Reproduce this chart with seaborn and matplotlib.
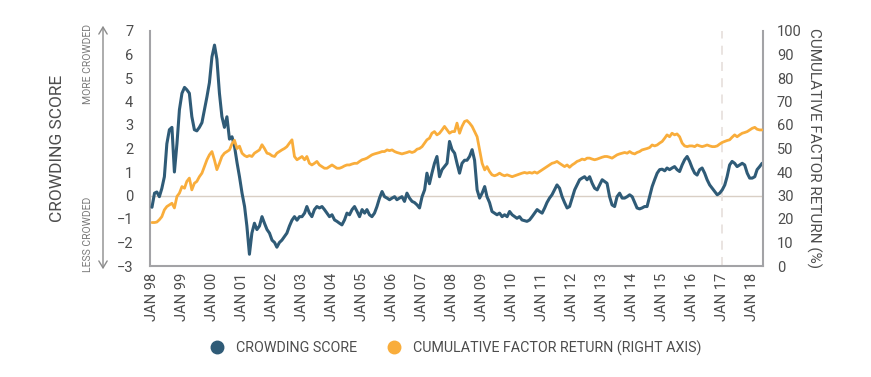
import numpy as np
import pandas as pd
import matplotlib
matplotlib.use("Agg")
import matplotlib.pyplot as plt
from matplotlib.lines import Line2D
import seaborn as sns

# monthly readings, Jan 1998 .. May 2018
crowding = [
    -0.5, 0.1, 0.15, -0.05, 0.3, 0.8, 2.2, 2.8, 2.9, 1.0, 2.2, 3.65,
    4.35, 4.6, 4.5, 4.35, 3.36, 2.8, 2.75, 2.9, 3.1, 3.65, 4.2, 4.8,
    5.9, 6.4, 5.8, 4.35, 3.36, 2.9, 3.35, 2.4, 2.5, 2.1, 1.4, 0.8,
    0.1, -0.47, -1.3, -2.5, -1.6, -1.18, -1.45, -1.3, -0.9, -1.18, -1.45, -1.6,
    -1.9, -2.0, -2.2, -2.0, -1.9, -1.75, -1.6, -1.3, -1.05, -0.9, -1.05, -0.9,
    -0.9, -0.75, -0.47, -0.75, -0.9, -0.6, -0.47, -0.53, -0.47, -0.6, -0.75, -0.9,
    -0.82, -1.04, -1.1, -1.18, -1.25, -1.04, -0.75, -0.82, -0.6, -0.47, -0.68, -0.9,
    -0.6, -0.75, -0.6, -0.82, -0.9, -0.75, -0.47, -0.11, 0.17, -0.05, -0.11, -0.18,
    -0.11, -0.05, -0.18, -0.11, -0.05, -0.25, 0.1, -0.11, -0.25, -0.3, -0.4, -0.53,
    -0.05, 0.24, 0.95, 0.5, 0.95, 1.37, 1.66, 0.8, 1.1, 1.23, 1.37, 2.3,
    1.95, 1.8, 1.37, 0.95, 1.37, 1.5, 1.5, 1.66, 1.95, 1.5, 0.24, -0.11,
    0.1, 0.38, -0.05, -0.3, -0.68, -0.75, -0.82, -0.75, -0.9, -0.82, -0.9, -0.68,
    -0.82, -0.9, -0.97, -0.9, -1.04, -1.07, -1.1, -1.04, -0.9, -0.75, -0.6, -0.68,
    -0.75, -0.53, -0.3, -0.11, 0.03, 0.24, 0.45, 0.31, -0.05, -0.3, -0.53, -0.47,
    -0.11, 0.24, 0.45, 0.67, 0.74, 0.8, 0.67, 0.8, 0.52, 0.31, 0.24, 0.45,
    0.67, 0.59, 0.52, -0.05, -0.4, -0.47, -0.05, 0.1, -0.11, -0.11, -0.05, 0.03,
    -0.05, -0.3, -0.53, -0.57, -0.53, -0.47, -0.47, -0.05, 0.38, 0.67, 0.95, 1.1,
    1.12, 1.05, 1.17, 1.1, 1.17, 1.23, 1.1, 1.02, 1.3, 1.52, 1.66, 1.45,
    1.17, 0.95, 0.87, 1.1, 1.17, 0.95, 0.67, 0.45, 0.31, 0.17, 0.03, 0.1,
    0.24, 0.45, 0.8, 1.3, 1.45, 1.37, 1.23, 1.3, 1.37, 1.3, 0.95, 0.74,
    0.74, 0.8, 1.1, 1.23, 1.37,
]

factor_return = [
    18.5, 18.5, 18.7, 19.7, 21.0, 23.9, 25.3, 26.0, 26.7, 24.7, 29.6, 31.0,
    33.8, 33.1, 36.0, 37.4, 32.4, 35.2, 36.0, 38.0, 39.5, 42.3, 45.2, 47.3,
    48.7, 45.0, 41.0, 43.7, 46.6, 48.0, 48.7, 49.4, 52.0, 53.5, 50.0, 51.0,
    48.0, 47.0, 46.5, 47.0, 46.6, 48.0, 48.7, 49.4, 51.6, 50.0, 48.0, 47.7,
    46.9, 46.6, 48.0, 48.7, 49.4, 50.0, 50.8, 52.3, 53.7, 46.6, 45.2, 45.9,
    46.6, 45.2, 46.6, 43.7, 43.0, 43.7, 44.5, 43.0, 42.3, 41.6, 41.6, 42.3,
    43.0, 42.3, 41.6, 41.6, 42.0, 42.6, 43.0, 43.0, 43.4, 43.7, 43.7, 44.5,
    45.2, 45.5, 45.9, 46.6, 47.3, 47.7, 48.0, 48.3, 48.7, 48.7, 49.4, 49.1,
    49.4, 48.7, 48.3, 48.0, 47.7, 48.0, 48.3, 48.7, 48.3, 48.7, 49.7, 50.0,
    50.8, 52.3, 53.7, 54.4, 56.5, 57.2, 55.8, 56.5, 57.9, 59.4, 57.9, 56.5,
    57.2, 57.2, 60.8, 56.5, 59.4, 61.5, 61.9, 60.8, 59.4, 57.2, 55.0, 49.4,
    43.7, 40.9, 42.3, 40.2, 38.8, 38.4, 38.8, 39.5, 38.8, 38.4, 38.8, 38.4,
    38.0, 38.4, 38.8, 39.2, 39.5, 39.8, 39.5, 39.8, 39.5, 40.0, 39.5, 40.2,
    40.9, 41.6, 42.3, 43.0, 43.7, 44.0, 44.5, 43.7, 43.0, 42.3, 43.0, 42.0,
    43.0, 43.7, 44.5, 44.9, 45.5, 45.2, 45.9, 45.9, 45.5, 45.2, 45.5, 45.9,
    46.3, 46.6, 46.6, 46.3, 45.9, 46.6, 47.3, 47.7, 48.0, 48.3, 48.0, 48.7,
    48.0, 47.7, 48.3, 48.7, 49.4, 49.7, 50.0, 50.4, 51.5, 51.1, 51.5, 52.3,
    53.0, 54.4, 55.8, 55.0, 56.5, 55.8, 56.2, 55.0, 52.3, 51.1, 50.8, 51.1,
    51.1, 50.8, 51.5, 51.1, 50.8, 51.1, 51.5, 51.1, 50.8, 50.8, 51.1, 51.9,
    52.6, 53.0, 53.4, 53.7, 54.8, 55.8, 55.0, 55.8, 56.5, 56.8, 57.2, 57.9,
    58.6, 59.0, 58.2, 57.9, 57.9,
]

years = list(range(1998, 2019))
tick_labels = ["JAN %02d" % (y % 100) for y in years]

dates = pd.date_range("1998-01-01", periods=len(crowding), freq="MS")
df = pd.DataFrame({"date": dates, "crowding": crowding, "ret": factor_return})

blue = "#2f5b77"
orange = "#f9ad3b"
grey_txt = "#4d4d4d"
spine_c = "#a3a3a6"

sns.set_style("white")
plt.rcParams["font.family"] = ["Roboto", "DejaVu Sans"]

fig = plt.figure(figsize=(8.71, 3.77), dpi=100)
ax = fig.add_axes([150 / 871, 1 - 266 / 377, (763 - 150) / 871, (266 - 31) / 377])
ax2 = ax.twinx()

ax.axhline(0, color="#d9cfc5", lw=1, zorder=1)
ax.axvline(pd.Timestamp("2017-01-01"), color="#e8e2de", lw=1.3, ls=(0, (5, 4)), zorder=1)

sns.lineplot(data=df, x="date", y="crowding", ax=ax, color=blue, lw=2.2, zorder=3)
sns.lineplot(data=df, x="date", y="ret", ax=ax2, color=orange, lw=2.0, zorder=3)

ax.set_ylim(-3, 7)
ax2.set_ylim(0, 100)
ax.set_xlim(pd.Timestamp("1997-12-08"), pd.Timestamp("2018-05-12"))
ax.set_yticks(range(-3, 8))
ax2.set_yticks(range(0, 101, 10))
ax.set_xticks([pd.Timestamp(f"{y}-01-01") for y in years])
ax.set_xticklabels(tick_labels, rotation=90)

for a in (ax, ax2):
    a.set_xlabel("")
    a.set_ylabel("")
    a.tick_params(length=0, labelsize=10.5, labelcolor=grey_txt)
    for s in a.spines.values():
        s.set_visible(False)
ax.tick_params(axis="y", pad=12)
ax.tick_params(axis="x", pad=5)
ax2.tick_params(axis="y", pad=10)
ax.spines["left"].set_visible(True)
ax.spines["bottom"].set_visible(True)
ax2.spines["right"].set_visible(True)
for s in (ax.spines["left"], ax.spines["bottom"], ax2.spines["right"]):
    s.set_color(spine_c)
    s.set_linewidth(1.5)
# orange on top of blue
ax.set_zorder(0)
ax2.set_zorder(1)
ax2.patch.set_visible(False)

fig.text(57 / 871, 1 - 148 / 377, "CROWDING SCORE", rotation=90, ha="center", va="center",
         fontsize=12.5, color=grey_txt)
fig.text(814 / 871, 1 - 148 / 377, "CUMULATIVE FACTOR RETURN (%)", rotation=270,
         ha="center", va="center", fontsize=11, color=grey_txt)
fig.text(88 / 871, 1 - 24 / 377, "MORE CROWDED", rotation=90, ha="center", va="top",
         fontsize=7.5, color="#7a7a7a")
fig.text(88 / 871, 1 - 272 / 377, "LESS CROWDED", rotation=90, ha="center", va="bottom",
         fontsize=7.5, color="#7a7a7a")
fig.add_artist(matplotlib.patches.FancyArrowPatch(
    (103 / 871, 1 - 272 / 377), (103 / 871, 1 - 23 / 377), transform=fig.transFigure,
    arrowstyle="<->,head_length=5,head_width=3", color="#8c8c8c", lw=1))

handles = [
    Line2D([], [], ls="", marker="o", ms=9, color=blue, label="CROWDING SCORE"),
    Line2D([], [], ls="", marker="o", ms=9, color=orange, label="CUMULATIVE FACTOR RETURN (RIGHT AXIS)"),
]
leg = fig.legend(handles=handles, loc="center", bbox_to_anchor=(452 / 871, 1 - 348 / 377), ncol=2,
                 frameon=False, fontsize=10.3, handletextpad=0.3, columnspacing=1.6)
for t in leg.get_texts():
    t.set_color(grey_txt)

fig.savefig("out.png", dpi=100)
